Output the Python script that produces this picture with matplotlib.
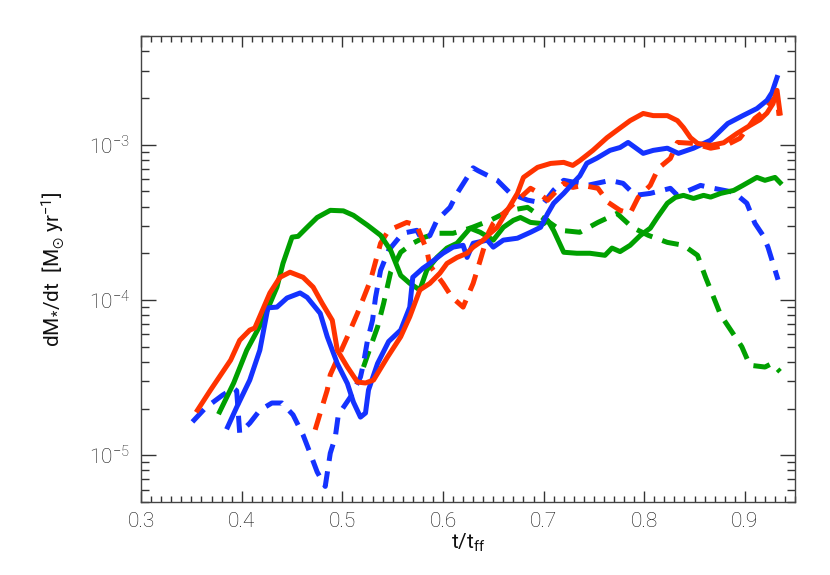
import matplotlib
matplotlib.use("Agg")
import matplotlib.pyplot as plt
from matplotlib.ticker import MultipleLocator, LogLocator, FixedLocator, FixedFormatter, NullFormatter

plt.rcParams['font.family'] = ['Roboto', 'DejaVu Sans']
plt.rcParams['font.weight'] = 'light'
plt.rcParams['mathtext.default'] = 'regular'
plt.rcParams['text.color'] = '#111111'
plt.rcParams['axes.labelcolor'] = '#111111'
plt.rcParams['xtick.labelcolor'] = '#111111'
plt.rcParams['ytick.labelcolor'] = '#111111'

# ---- data ----
red_solid_x = [0.356, 0.369, 0.389, 0.398, 0.408, 0.413, 0.428, 0.438, 0.448, 0.461, 0.471, 0.480, 0.490, 0.495,
               0.505, 0.515, 0.523, 0.531, 0.545, 0.558, 0.567, 0.577, 0.587, 0.597, 0.604, 0.614, 0.624, 0.630,
               0.640, 0.647, 0.654, 0.664, 0.674, 0.680, 0.694, 0.707, 0.720, 0.729, 0.736, 0.749, 0.763, 0.773,
               0.786, 0.799, 0.809, 0.823, 0.833, 0.839, 0.846, 0.853, 0.866, 0.879, 0.892, 0.905, 0.915, 0.922,
               0.928, 0.932, 0.935]
red_solid_y = [1.95e-5, 2.63e-5, 4.1e-5, 5.5e-5, 6.4e-5, 6.6e-5, 1.11e-4, 1.40e-4, 1.51e-4, 1.40e-4, 1.21e-4,
               9.5e-5, 7.4e-5, 4.75e-5, 3.7e-5, 2.96e-5, 2.92e-5, 3.05e-5, 4.3e-5, 5.8e-5, 7.8e-5, 1.16e-4,
               1.28e-4, 1.49e-4, 1.72e-4, 1.88e-4, 2.0e-4, 2.19e-4, 2.43e-4, 2.69e-4, 2.94e-4, 3.78e-4, 4.86e-4,
               6.16e-4, 7.15e-4, 7.58e-4, 7.70e-4, 7.36e-4, 7.9e-4, 9.2e-4, 1.11e-3, 1.24e-3, 1.43e-3, 1.59e-3,
               1.54e-3, 1.54e-3, 1.43e-3, 1.29e-3, 1.11e-3, 1.02e-3, 9.9e-4, 1.03e-3, 1.18e-3, 1.33e-3, 1.45e-3,
               1.6e-3, 1.84e-3, 2.24e-3, 1.6e-3]

red_dash_x = [0.473, 0.478, 0.485, 0.488, 0.505, 0.515, 0.528, 0.538, 0.546, 0.564, 0.574, 0.584, 0.587, 0.600,
              0.609, 0.620, 0.630, 0.637, 0.645, 0.650, 0.660, 0.674, 0.687, 0.694, 0.704, 0.720, 0.729, 0.739,
              0.754, 0.764, 0.776, 0.786, 0.794, 0.806, 0.814, 0.826, 0.833, 0.849, 0.866, 0.881, 0.895, 0.910,
              0.920, 0.927, 0.932, 0.934]
red_dash_y = [1.46e-5, 1.87e-5, 2.63e-5, 3.3e-5, 5.8e-5, 8.2e-5, 1.34e-4, 2.32e-4, 2.81e-4, 3.16e-4, 3.03e-4,
              2.09e-4, 1.67e-4, 1.28e-4, 1.04e-4, 9.0e-5, 1.28e-4, 1.80e-4, 2.69e-4, 3.12e-4, 3.61e-4, 4.39e-4,
              5.24e-4, 4.94e-4, 4.39e-4, 5.64e-4, 5.31e-4, 5.47e-4, 5.24e-4, 4.26e-4, 3.78e-4, 3.61e-4, 4.58e-4,
              5.47e-4, 7.04e-4, 8.16e-4, 1.035e-3, 1.02e-3, 9.5e-4, 9.9e-4, 1.10e-3, 1.48e-3, 1.66e-3, 1.93e-3,
              2.07e-3, 1.54e-3]

blue_solid_x = [0.386, 0.395, 0.408, 0.418, 0.426, 0.435, 0.445, 0.458, 0.465, 0.478, 0.485, 0.495, 0.505, 0.511,
                0.518, 0.523, 0.526, 0.535, 0.546, 0.558, 0.567, 0.570, 0.580, 0.587, 0.600, 0.610, 0.620, 0.624,
                0.630, 0.644, 0.650, 0.660, 0.674, 0.687, 0.697, 0.704, 0.710, 0.720, 0.729, 0.736, 0.743, 0.753,
                0.766, 0.776, 0.784, 0.791, 0.799, 0.809, 0.823, 0.834, 0.849, 0.866, 0.883, 0.898, 0.912, 0.922,
                0.927, 0.932]
blue_solid_y = [1.52e-5, 2.04e-5, 3.05e-5, 4.75e-5, 8.9e-5, 9.0e-5, 1.03e-4, 1.11e-4, 1.04e-4, 8.2e-5, 5.8e-5,
                3.9e-5, 2.9e-5, 2.2e-5, 1.76e-5, 1.87e-5, 2.63e-5, 3.9e-5, 5.4e-5, 6.4e-5, 9.0e-5, 1.40e-4,
                1.60e-4, 1.72e-4, 2.0e-4, 2.19e-4, 2.25e-4, 1.88e-4, 2.32e-4, 2.43e-4, 2.19e-4, 2.43e-4, 2.5e-4,
                2.73e-4, 2.94e-4, 3.6e-4, 4.2e-4, 4.86e-4, 5.64e-4, 6.3e-4, 7.6e-4, 8.2e-4, 9.2e-4, 9.6e-4,
                1.035e-3, 9.6e-4, 8.8e-4, 9.2e-4, 9.5e-4, 8.8e-4, 9.5e-4, 1.07e-3, 1.37e-3, 1.54e-3, 1.71e-3,
                1.93e-3, 2.17e-3, 2.71e-3]

blue_dash_x = [0.351, 0.364, 0.381, 0.392, 0.395, 0.398, 0.408, 0.418, 0.430, 0.440, 0.451, 0.461, 0.468, 0.475,
               0.483, 0.488, 0.493, 0.496, 0.508, 0.518, 0.521, 0.525, 0.530, 0.533, 0.538, 0.546, 0.560, 0.574,
               0.579, 0.587, 0.594, 0.607, 0.614, 0.625, 0.630, 0.635, 0.654, 0.667, 0.684, 0.700, 0.710, 0.720,
               0.745, 0.766, 0.779, 0.791, 0.806, 0.826, 0.833, 0.856, 0.869, 0.889, 0.902, 0.910, 0.918, 0.923,
               0.928, 0.933]
blue_dash_y = [1.64e-5, 2.02e-5, 2.44e-5, 2.7e-5, 2.6e-5, 1.39e-5, 1.61e-5, 1.95e-5, 2.17e-5, 2.17e-5, 1.82e-5,
               1.35e-5, 1.03e-5, 7.8e-6, 6.3e-6, 1.03e-5, 1.31e-5, 1.82e-5, 2.37e-5, 3.19e-5, 3.9e-5, 5.5e-5,
               7.4e-5, 1.04e-4, 1.55e-4, 2.09e-4, 2.69e-4, 2.81e-4, 2.45e-4, 2.6e-4, 3.26e-4, 3.95e-4, 4.86e-4,
               6.3e-4, 7.1e-4, 6.8e-4, 5.9e-4, 4.86e-4, 4.4e-4, 4.2e-4, 5.1e-4, 5.9e-4, 5.5e-4, 5.89e-4, 5.64e-4,
               4.72e-4, 4.86e-4, 5.24e-4, 4.72e-4, 5.47e-4, 5.24e-4, 4.94e-4, 4.2e-4, 3.12e-4, 2.61e-4, 2.19e-4,
               1.72e-4, 1.35e-4]

green_solid_x = [0.378, 0.392, 0.405, 0.421, 0.435, 0.441, 0.450, 0.456, 0.465, 0.475, 0.488, 0.501, 0.511, 0.525,
                 0.538, 0.548, 0.558, 0.567, 0.577, 0.584, 0.594, 0.604, 0.614, 0.627, 0.637, 0.650, 0.660, 0.670,
                 0.677, 0.687, 0.700, 0.704, 0.710, 0.720, 0.733, 0.746, 0.761, 0.768, 0.776, 0.786, 0.796, 0.806,
                 0.813, 0.823, 0.831, 0.839, 0.849, 0.859, 0.866, 0.876, 0.889, 0.898, 0.912, 0.920, 0.930, 0.935]
green_solid_y = [1.9e-5, 2.92e-5, 4.75e-5, 7.4e-5, 1.21e-4, 1.72e-4, 2.54e-4, 2.57e-4, 2.94e-4, 3.40e-4, 3.78e-4,
                 3.75e-4, 3.51e-4, 3.03e-4, 2.61e-4, 2.09e-4, 1.44e-4, 1.28e-4, 1.16e-4, 1.56e-4, 1.88e-4, 2.16e-4,
                 2.32e-4, 2.90e-4, 2.73e-4, 2.43e-4, 2.94e-4, 3.26e-4, 3.40e-4, 3.16e-4, 3.10e-4, 3.26e-4, 2.8e-4,
                 2.03e-4, 2.0e-4, 2.0e-4, 1.94e-4, 2.16e-4, 2.05e-4, 2.25e-4, 2.6e-4, 2.9e-4, 3.4e-4, 4.2e-4,
                 4.58e-4, 4.72e-4, 4.51e-4, 4.72e-4, 4.6e-4, 4.86e-4, 5.08e-4, 5.47e-4, 6.16e-4, 5.9e-4, 6.16e-4,
                 5.7e-4]

green_dash_x = [0.521, 0.528, 0.535, 0.541, 0.548, 0.558, 0.570, 0.582, 0.594, 0.610, 0.627, 0.647, 0.667, 0.684,
                0.707, 0.717, 0.736, 0.754, 0.773, 0.788, 0.804, 0.823, 0.839, 0.853, 0.861, 0.869, 0.876, 0.886,
                0.897, 0.905, 0.920, 0.927, 0.935]
green_dash_y = [3.7e-5, 5.0e-5, 6.7e-5, 9.5e-5, 1.51e-4, 2.03e-4, 2.32e-4, 2.54e-4, 2.69e-4, 2.69e-4, 2.9e-4,
                3.26e-4, 3.78e-4, 3.95e-4, 3.12e-4, 2.81e-4, 2.73e-4, 3.16e-4, 3.61e-4, 2.94e-4, 2.61e-4, 2.35e-4,
                2.25e-4, 1.94e-4, 1.40e-4, 1.04e-4, 8.0e-5, 6.4e-5, 5.0e-5, 3.8e-5, 3.7e-5, 3.9e-5, 3.45e-5]

x_ticks = [0.3, 0.4, 0.5, 0.6, 0.7, 0.8, 0.9]
x_ticklabels = ['0.3', '0.4', '0.5', '0.6', '0.7', '0.8', '0.9']
y_ticks = [1e-5, 1e-4, 1e-3]
y_ticklabels = ['10$^{-5}$', '10$^{-4}$', '10$^{-3}$']

RED = '#ff3300'
BLUE = '#1432ff'
GREEN = '#00a000'

fig = plt.figure(figsize=(8.3, 5.75), dpi=100)
ax = fig.add_axes([0.170, 0.127, 0.788, 0.810])

lw = 3.6
dash = (0, (3.4, 2.1))
ax.plot(green_dash_x, green_dash_y, color=GREEN, lw=lw, ls=dash)
ax.plot(blue_dash_x, blue_dash_y, color=BLUE, lw=lw, ls=dash)
ax.plot(red_dash_x, red_dash_y, color=RED, lw=lw, ls=dash)
ax.plot(green_solid_x, green_solid_y, color=GREEN, lw=lw)
ax.plot(blue_solid_x, blue_solid_y, color=BLUE, lw=lw)
ax.plot(red_solid_x, red_solid_y, color=RED, lw=lw)

ax.set_yscale('log')
ax.set_xlim(0.3, 0.95)
ax.set_ylim(5e-6, 5e-3)

ax.xaxis.set_major_locator(FixedLocator(x_ticks))
ax.xaxis.set_major_formatter(FixedFormatter(x_ticklabels))
ax.xaxis.set_minor_locator(MultipleLocator(0.01))
ax.yaxis.set_major_locator(FixedLocator(y_ticks))
ax.yaxis.set_major_formatter(FixedFormatter(y_ticklabels))
ax.yaxis.set_minor_locator(LogLocator(base=10, subs=range(2, 10), numticks=20))
ax.yaxis.set_minor_formatter(NullFormatter())

for s in ax.spines.values():
    s.set_color('#444444')
    s.set_linewidth(1.0)
ax.tick_params(which='both', direction='in', top=True, right=True, color='#333333', width=1.0)
ax.tick_params(axis='y', which='major', length=11, labelsize=15, pad=8)
ax.tick_params(axis='y', which='minor', length=5.5)
ax.tick_params(axis='x', which='major', length=8, labelsize=15, pad=7)
ax.tick_params(axis='x', which='minor', length=4)

ax.set_xlabel('t/t$_{ff}$', fontsize=15, labelpad=1)
ax.set_ylabel('dM$_{*}$/dt  [M$_{\\odot}$ yr$^{-1}$]', fontsize=15, labelpad=16)

fig.savefig('out.png', dpi=100)
